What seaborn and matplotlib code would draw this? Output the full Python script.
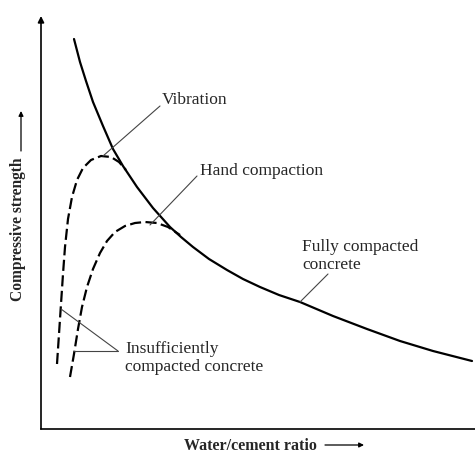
import pandas as pd
import matplotlib
matplotlib.use("Agg")
import matplotlib.pyplot as plt
import seaborn as sns

# values, arbitrary units (0..434 along x, 0..413 up)
full_x = [33, 39, 45, 52, 62, 72, 82, 96, 112, 129, 140, 152, 168, 186, 202, 219, 238, 259,
          292, 326, 359, 392, 431]
full_y = [390, 367, 348, 327, 303, 280, 263, 242, 221, 202, 192, 182, 170, 159, 150, 142, 134, 127,
          113, 100, 88, 78, 68]

vib_x = [16, 18, 20, 22, 24, 27, 31, 36, 42, 50, 60, 70, 78, 85]
vib_y = [65, 95, 125, 155, 182, 210, 232, 249, 261, 269, 273, 272, 267, 259]

hand_x = [29, 33, 37, 41, 46, 52, 59, 66, 74, 84, 94, 104, 116, 127, 139]
hand_y = [52, 75, 100, 122, 142, 160, 176, 188, 197, 203, 206, 207, 206, 202, 194]

labels = ["Vibration", "Hand compaction", "Fully compacted\nconcrete",
          "Insufficiently\ncompacted concrete"]

sns.set_style("white")
plt.rcParams["font.family"] = ["Liberation Serif", "DejaVu Serif"]

fig = plt.figure(figsize=(4.75, 4.56), dpi=100)
ax = fig.add_axes([41 / 475, 26 / 456, 434 / 475, 413 / 456])

full = pd.DataFrame({"x": full_x, "y": full_y})
vib = pd.DataFrame({"x": vib_x, "y": vib_y})
hand = pd.DataFrame({"x": hand_x, "y": hand_y})

sns.lineplot(data=full, x="x", y="y", sort=False, estimator=None,
             color="black", lw=1.6, ax=ax)
sns.lineplot(data=vib, x="x", y="y", sort=False, estimator=None,
             color="black", lw=1.6, ax=ax)
sns.lineplot(data=hand, x="x", y="y", sort=False, estimator=None,
             color="black", lw=1.6, ax=ax)
ax.lines[1].set_dashes((5, 2))
ax.lines[2].set_dashes((5, 2))

ax.set_xlim(0, 434)
ax.set_ylim(0, 413)
ax.set_xticks([])
ax.set_yticks([])
ax.set_xlabel("")
ax.set_ylabel("")
for s in ["top", "right", "left"]:
    ax.spines[s].set_visible(False)
ax.spines["bottom"].set_color("black")
ax.spines["bottom"].set_linewidth(1.2)

# y axis with arrow head
ax.annotate("", xy=(0, 413), xytext=(0, 0), annotation_clip=False,
            arrowprops=dict(arrowstyle="-|>", color="black", lw=1.2,
                            mutation_scale=9, shrinkA=0, shrinkB=0))

# leader lines
lead = dict(color="#444444", lw=0.8)
ax.plot([62, 119], [273, 323], **lead)
ax.plot([109, 156], [204, 253], **lead)
ax.plot([259, 287], [127, 155], **lead)
ax.plot([20, 77], [120, 78], **lead)
ax.plot([33, 77], [78, 78], **lead)

fs = 12.5
ax.text(121, 330, labels[0], fontsize=fs, va="center", ha="left")
ax.text(159, 259, labels[1], fontsize=fs, va="center", ha="left")
ax.text(261, 174, labels[2], fontsize=fs, va="center", ha="left",
        linespacing=1.1)
ax.text(84, 72, labels[3], fontsize=fs, va="center", ha="left",
        linespacing=1.1)

# axis titles with arrows
fig.text(18 / 475, 1 - 229 / 456, "Compressive strength", rotation=90,
         fontsize=11.2, fontweight="bold", ha="center", va="center")
fig.text(250 / 475, 1 - 446 / 456, "Water/cement ratio",
         fontsize=11.5, fontweight="bold", ha="center", va="center")
arr = dict(arrowstyle="-|>", color="black", lw=0.9, mutation_scale=7,
           shrinkA=0, shrinkB=0)
fig.patches.append(matplotlib.patches.FancyArrowPatch(
    (21 / 475, 1 - 152 / 456), (21 / 475, 1 - 112 / 456),
    transform=fig.transFigure, **arr))
fig.patches.append(matplotlib.patches.FancyArrowPatch(
    (325 / 475, 1 - 446 / 456), (364 / 475, 1 - 446 / 456),
    transform=fig.transFigure, **arr))

plt.savefig("out.png", dpi=100)
plt.close()
